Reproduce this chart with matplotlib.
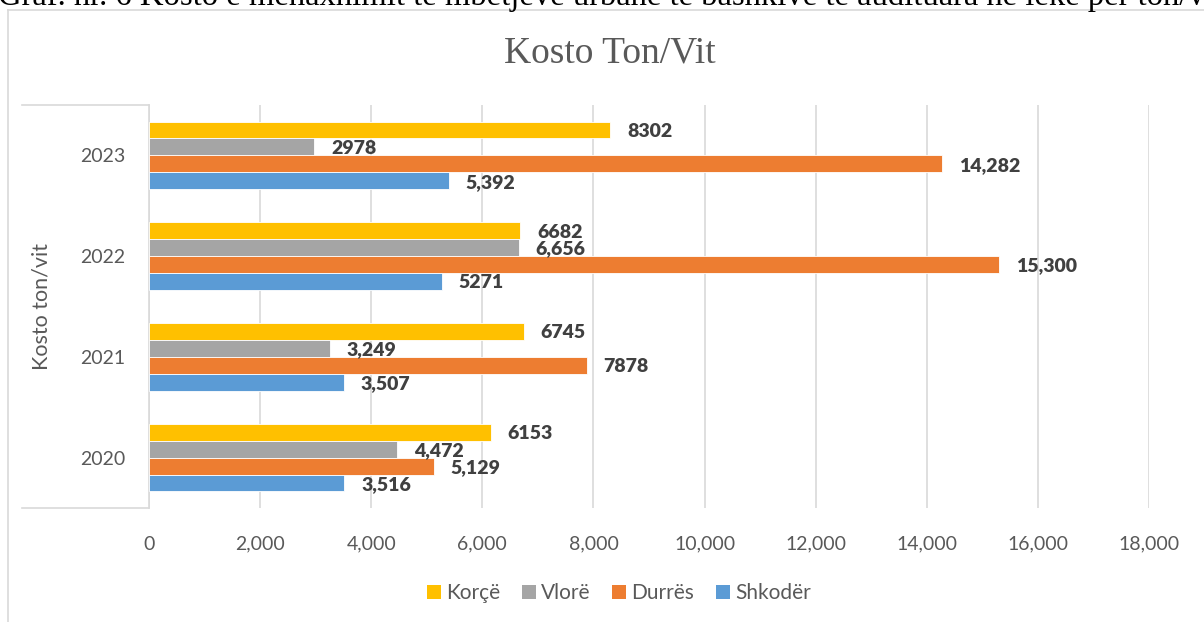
import matplotlib.pyplot as plt
from matplotlib.lines import Line2D
from matplotlib.patches import Patch

# data
years = ["2020", "2021", "2022", "2023"]
series = ["Korçë", "Vlorë", "Durrës", "Shkodër"]
korce = [6153, 6745, 6682, 8302]
vlore = [4472, 3249, 6656, 2978]
durres = [5129, 7878, 15300, 14282]
shkoder = [3516, 3507, 5271, 5392]
korce_lbl = ["6153", "6745", "6682", "8302"]
vlore_lbl = ["4,472", "3,249", "6,656", "2978"]
durres_lbl = ["5,129", "7878", "15,300", "14,282"]
shkoder_lbl = ["3,516", "3,507", "5271", "5,392"]
xticks = list(range(0, 18001, 2000))

colors = ["#FFC000", "#A5A5A5", "#ED7D31", "#5B9BD5"]
txt = "#595959"
lab = "#404040"
font = ["Lato", "DejaVu Sans"]

W, H = 1204, 622
fig = plt.figure(figsize=(W / 100, H / 100), dpi=100)

def fx(px):
    return px / W

def fy(py):
    return 1 - py / H

# caption cut off at top of screenshot
fig.text(fx(-2), fy(4.5), "Graf. nr. 6 Kosto e menaxhimit të mbetjeve urbane të bashkive të audituara në lekë për ton/vit",
         fontsize=23.5, family="Liberation Serif", color="black", va="baseline", ha="left")

# chart frame
fig.add_artist(Line2D([fx(8), fx(8)], [fy(10), 0], color="#D9D9D9", lw=1.2))
fig.add_artist(Line2D([fx(8), 1], [fy(10), fy(10)], color="#D9D9D9", lw=1.2))

left, right, top, bottom = 149, 1149, 105, 508
ax = fig.add_axes([fx(left), fy(bottom), fx(right - left), (bottom - top) / H])

h = 0.168
data = [korce, vlore, durres, shkoder]
labels = [korce_lbl, vlore_lbl, durres_lbl, shkoder_lbl]
offsets = [1.5 * h, 0.5 * h, -0.5 * h, -1.5 * h]
for vals, lbls, off, c in zip(data, labels, offsets, colors):
    ys = [i + off for i in range(len(years))]
    ax.barh(ys, vals, height=h, color=c, edgecolor="white", linewidth=0.6, zorder=3)
    for y, v, s in zip(ys, vals, lbls):
        ax.annotate(s, (v, y), xytext=(12, -1), textcoords="offset points",
                    ha="left", va="center", fontsize=14, fontweight="heavy",
                    color=lab, family=font, zorder=4)

ax.set_xlim(0, 18000)
ax.set_ylim(-0.5, len(years) - 0.5)
ax.set_xticks(xticks)
ax.set_xticklabels([f"{t:,}" for t in xticks], family=font, fontsize=14, color=txt)
ax.set_yticks(range(len(years)))
ax.set_yticklabels(years, family=font, fontsize=14, color=txt)
ax.tick_params(axis="both", length=0)
ax.tick_params(axis="x", pad=20)
ax.tick_params(axis="y", pad=17)
ax.grid(axis="x", color="#D9D9D9", lw=1.2, zorder=0)
for s in ["top", "right", "bottom"]:
    ax.spines[s].set_visible(False)
ax.spines["left"].set_color("#D9D9D9")
ax.spines["left"].set_linewidth(1.2)
ax.set_ylabel("Kosto ton/vit", family=font, fontsize=15.5, color=txt)
ax.yaxis.set_label_coords(-0.097, 0.5)

# category axis border lines
fig.add_artist(Line2D([fx(22), fx(left)], [fy(top), fy(top)], color="#D9D9D9", lw=1.2))
fig.add_artist(Line2D([fx(22), fx(left)], [fy(bottom), fy(bottom)], color="#D9D9D9", lw=1.2))

fig.text(fx(610), fy(53), "Kosto Ton/Vit", fontsize=27, family="Liberation Serif",
         color=txt, ha="center", va="center")

handles = [Patch(facecolor=c, edgecolor="none") for c in colors]
fig.legend(handles, series, loc="center", bbox_to_anchor=(fx(619), fy(593)), ncol=4,
           frameon=False, handlelength=0.67, handleheight=0.67, handletextpad=0.24,
           columnspacing=1.05, prop={"family": font, "size": 15}, labelcolor=txt)

fig.savefig("out.png", dpi=100)
